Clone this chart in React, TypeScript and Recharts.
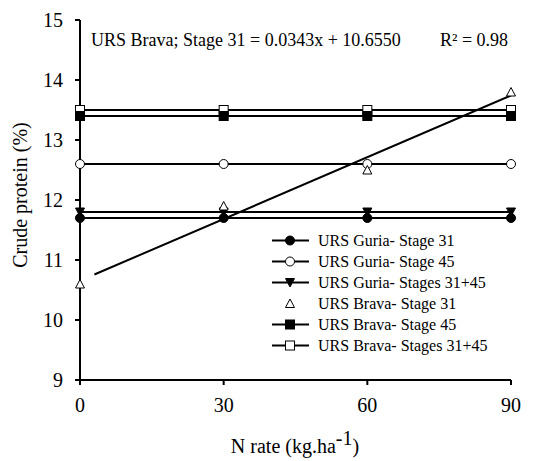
import React from "react";
import { ComposedChart, Line, XAxis, YAxis } from "recharts";

const xValues = [0, 30, 60, 90];
const guria31 = [11.7, 11.7, 11.7, 11.7];
const guria45 = [12.6, 12.6, 12.6, 12.6];
const guria3145 = [11.8, 11.8, 11.8, 11.8];
const brava31 = [10.6, 11.9, 12.5, 13.8];
const brava45 = [13.4, 13.4, 13.4, 13.4];
const brava3145 = [13.5, 13.5, 13.5, 13.5];
const trendSlope = 0.0343;
const trendIntercept = 10.655;
const trendX = [3, 90];
const xTicks = [0, 30, 60, 90];
const yTicks = [9, 10, 11, 12, 13, 14, 15];

const data = xValues.map((x, i) => ({
  x,
  guria31: guria31[i],
  guria45: guria45[i],
  guria3145: guria3145[i],
  brava31: brava31[i],
  brava45: brava45[i],
  brava3145: brava3145[i],
}));
const trendData = trendX.map((x) => ({ x, trend: trendSlope * x + trendIntercept }));

const FONT = "'Liberation Serif', Tinos, 'Noto Serif', 'DejaVu Serif', 'Times New Roman', serif";

type Kind = "circleFill" | "circleOpen" | "triDownFill" | "triUpOpen" | "squareFill" | "squareOpen";

function Marker({ kind, cx, cy }: { kind: Kind; cx: number; cy: number }) {
  const s = 4.5;
  switch (kind) {
    case "circleFill":
      return <circle cx={cx} cy={cy} r={s} fill="#000" stroke="#000" strokeWidth={1} />;
    case "circleOpen":
      return <circle cx={cx} cy={cy} r={s} fill="#fff" stroke="#000" strokeWidth={1} />;
    case "triDownFill":
      return (
        <polygon
          points={`${cx - s},${cy - s + 0.5} ${cx + s},${cy - s + 0.5} ${cx},${cy + s}`}
          fill="#000"
          stroke="#000"
          strokeWidth={1}
        />
      );
    case "triUpOpen":
      return (
        <polygon
          points={`${cx - s},${cy + s - 0.5} ${cx + s},${cy + s - 0.5} ${cx},${cy - s}`}
          fill="#fff"
          stroke="#000"
          strokeWidth={1}
        />
      );
    case "squareFill":
      return <rect x={cx - s} y={cy - s} width={2 * s} height={2 * s} fill="#000" stroke="#000" strokeWidth={1} />;
    case "squareOpen":
      return <rect x={cx - s} y={cy - s} width={2 * s} height={2 * s} fill="#fff" stroke="#000" strokeWidth={1} />;
  }
  return null;
}

const dotFor = (kind: Kind) => (props: any) => {
  const { cx, cy, index } = props;
  if (cx == null || cy == null) return <g key={index} />;
  return (
    <g key={`${kind}-${index}`}>
      <Marker kind={kind} cx={cx} cy={cy} />
    </g>
  );
};

const legendItems: { label: string; kind: Kind; line: boolean }[] = [
  { label: "URS Guria- Stage 31", kind: "circleFill", line: true },
  { label: "URS Guria- Stage 45", kind: "circleOpen", line: true },
  { label: "URS Guria- Stages 31+45", kind: "triDownFill", line: true },
  { label: "URS Brava- Stage 31", kind: "triUpOpen", line: false },
  { label: "URS Brava- Stage 45", kind: "squareFill", line: true },
  { label: "URS Brava- Stages 31+45", kind: "squareOpen", line: true },
];

export default function App() {
  return (
    <div style={{ position: "absolute", left: 0, top: 0, width: 537, height: 461, background: "#fff", fontFamily: FONT }}>
      <ComposedChart
        width={537}
        height={461}
        data={data}
        margin={{ top: 20, right: 26, bottom: 0, left: 0 }}
        style={{ fontFamily: FONT }}
      >
        <XAxis
          dataKey="x"
          type="number"
          domain={[0, 90]}
          ticks={xTicks}
          height={81}
          tickSize={5}
          tickMargin={13}
          stroke="#000"
          strokeWidth={2}
          tick={{ fill: "#000", fontSize: 20, fontFamily: FONT }}
          allowDuplicatedCategory={false}
        />
        <YAxis
          type="number"
          domain={[9, 15]}
          ticks={yTicks}
          width={80}
          tickSize={5}
          tickMargin={12}
          stroke="#000"
          strokeWidth={2}
          tick={{ fill: "#000", fontSize: 20, fontFamily: FONT }}
        />
        <Line dataKey="brava3145" stroke="#000" strokeWidth={2} dot={dotFor("squareOpen")} isAnimationActive={false} />
        <Line dataKey="brava45" stroke="#000" strokeWidth={2} dot={dotFor("squareFill")} isAnimationActive={false} />
        <Line dataKey="guria45" stroke="#000" strokeWidth={2} dot={dotFor("circleOpen")} isAnimationActive={false} />
        <Line dataKey="guria3145" stroke="#000" strokeWidth={2} dot={dotFor("triDownFill")} isAnimationActive={false} />
        <Line dataKey="guria31" stroke="#000" strokeWidth={2} dot={dotFor("circleFill")} isAnimationActive={false} />
        <Line dataKey="trend" data={trendData} stroke="#000" strokeWidth={2} dot={false} isAnimationActive={false} />
        <Line dataKey="brava31" stroke="none" strokeWidth={0} dot={dotFor("triUpOpen")} isAnimationActive={false} />
      </ComposedChart>

      <div style={{ position: "absolute", left: 91, top: 29, fontSize: 18, lineHeight: "22px", whiteSpace: "nowrap", color: "#000" }}>
        URS Brava; Stage 31 = 0.0343x + 10.6550
      </div>
      <div style={{ position: "absolute", left: 440, top: 29, fontSize: 18, lineHeight: "22px", whiteSpace: "nowrap", color: "#000" }}>
        R² = 0.98
      </div>

      <div
        style={{
          position: "absolute",
          left: 20,
          top: 195,
          fontSize: 20,
          lineHeight: "24px",
          whiteSpace: "nowrap",
          color: "#000",
          transform: "translate(-50%, -50%) rotate(-90deg)",
        }}
      >
        Crude protein (%)
      </div>
      <div
        style={{
          position: "absolute",
          left: 295,
          top: 446,
          fontSize: 20,
          lineHeight: "24px",
          whiteSpace: "nowrap",
          color: "#000",
          transform: "translate(-50%, -50%)",
        }}
      >
        N rate (kg.ha<sup style={{ fontSize: 20, verticalAlign: "8px", lineHeight: 0 }}>-1</sup>)
      </div>

      <div style={{ position: "absolute", left: 270, top: 230 }}>
        {legendItems.map((it, i) => (
          <div key={i} style={{ display: "flex", alignItems: "center", height: 21, whiteSpace: "nowrap" }}>
            <svg width={48} height={21} style={{ display: "block" }}>
              {it.line && <line x1={2} y1={10.5} x2={39} y2={10.5} stroke="#000" strokeWidth={2} />}
              <Marker kind={it.kind} cx={20} cy={10.5} />
            </svg>
            <span style={{ fontSize: 16, lineHeight: "21px", color: "#000" }}>{it.label}</span>
          </div>
        ))}
      </div>
    </div>
  );
}
